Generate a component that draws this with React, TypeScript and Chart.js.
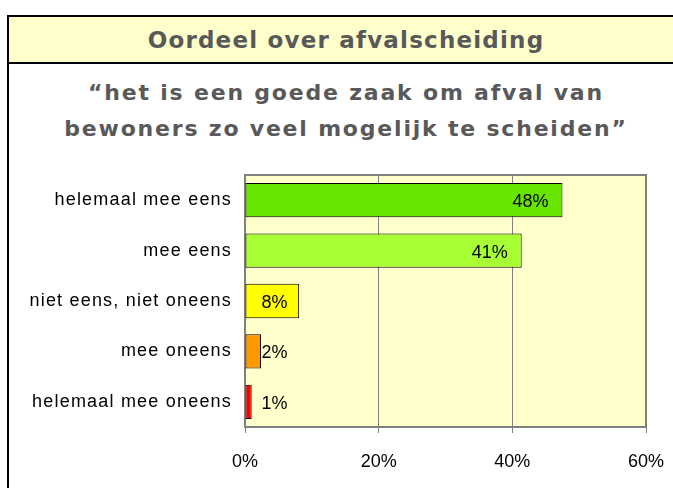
import { useEffect, useRef } from "react";
import { Chart, registerables } from "chart.js";
Chart.register(...registerables);

const headerTitle = "Oordeel over afvalscheiding";
const subtitleLines = ["“het is een goede zaak om afval van", "bewoners zo veel mogelijk te scheiden”"];
const categories = [
  "helemaal mee eens",
  "mee eens",
  "niet eens, niet oneens",
  "mee oneens",
  "helemaal mee oneens",
];
const values = [47.5, 41.4, 8.1, 2.4, 1.0];
const barColors = ["#66E600", "#A8FF33", "#FFFF00", "#FF9900", "#FF0000"];
const xTicks = [0, 20, 40, 60];

const GRAY = "#808080";
const TEXT_GRAY = "#595959";

const plotPlugin = {
  id: "plotDecor",
  beforeDraw(chart: any) {
    const { ctx, chartArea: a } = chart;
    (ctx as any).letterSpacing = "0px";
    ctx.save();
    ctx.fillStyle = "#FFFFCC";
    ctx.fillRect(a.left, a.top, a.right - a.left, a.bottom - a.top);
    ctx.restore();
  },
  beforeDatasetsDraw(chart: any) {
    const { ctx, chartArea: a } = chart;
    ctx.save();
    ctx.strokeStyle = GRAY;
    ctx.lineWidth = 2;
    ctx.strokeRect(a.left, a.top, a.right - a.left, a.bottom - a.top);
    ctx.restore();
  },
  afterDatasetsDraw(chart: any) {
    const { ctx } = chart;
    const meta = chart.getDatasetMeta(0);
    ctx.save();
    (ctx as any).letterSpacing = "0px";
    ctx.font = "18px 'Liberation Sans', Arial, sans-serif";
    ctx.fillStyle = "#000";
    ctx.textAlign = "right";
    ctx.textBaseline = "middle";
    meta.data.forEach((el: any, i: number) => {
      const text = Math.round(values[i]) + "%";
      const w = ctx.measureText(text).width;
      const right = Math.max(el.x - 14, el.base + 16 + w);
      ctx.fillText(text, right, el.y + 2);
    });
    ctx.restore();
    (ctx as any).letterSpacing = "1.2px";
  },
  afterDraw(chart: any) {
    (chart.ctx as any).letterSpacing = "0px";
  },
};

function BarChart() {
  const ref = useRef<HTMLCanvasElement | null>(null);
  useEffect(() => {
    if (!ref.current) return;
    const chart = new Chart(ref.current, {
      type: "bar",
      data: {
        labels: categories,
        datasets: [
          {
            data: values,
            backgroundColor: barColors,
            borderColor: "#000",
            borderWidth: 1,
            borderSkipped: false,
            barPercentage: 0.68,
            categoryPercentage: 1,
          },
        ],
      },
      options: {
        indexAxis: "y",
        responsive: false,
        animation: false,
        devicePixelRatio: 1,
        layout: { padding: { top: 25, right: 27, left: 0, bottom: 0 } },
        plugins: {
          legend: { display: false },
          tooltip: { enabled: false },
        },
        scales: {
          x: {
            min: 0,
            max: 60,
            afterBuildTicks: (s: any) => {
              s.ticks = xTicks.map((v) => ({ value: v }));
            },
            afterFit: (s: any) => {
              s.height = 61;
              s.paddingLeft = 0;
              s.paddingRight = 0;
            },
            ticks: {
              callback: (v: any) => v + "%",
              font: { family: "'Liberation Sans', Arial, sans-serif", size: 18 },
              color: "#000",
              padding: 18,
              maxRotation: 0,
            },
            grid: { color: GRAY, lineWidth: 1, tickLength: 6, drawTicks: true },
            border: { color: GRAY, width: 2 },
          },
          y: {
            afterFit: (s: any) => {
              s.width = 245;
            },
            ticks: {
              font: { family: "'Liberation Sans', Arial, sans-serif", size: 18 },
              color: "#000",
              padding: 13,
              z: 1,
            },
            grid: { display: false, drawTicks: false },
            border: { color: GRAY, width: 2 },
          },
        },
      },
      plugins: [plotPlugin],
    } as any);
    return () => chart.destroy();
  }, []);
  return (
    <canvas
      ref={ref}
      width={673}
      height={338}
      style={{ position: "absolute", left: 0, top: 150, width: 673, height: 338, display: "block" }}
    />
  );
}

export default function App() {
  return (
    <div
      style={{
        position: "absolute",
        left: 0,
        top: 0,
        width: 673,
        height: 488,
        overflow: "hidden",
        background: "#fff",
      }}
    >
      <div
        style={{
          position: "absolute",
          left: 7,
          top: 15,
          width: 674,
          height: 490,
          border: "2px solid #000",
        }}
      >
        <div
          style={{
            height: 44,
            background: "#FFFFCC",
            borderBottom: "2px solid #000",
            textAlign: "center",
            font: "bold 23px 'DejaVu Sans', Verdana, sans-serif",
            letterSpacing: "1.2px",
            lineHeight: "44px",
            paddingTop: 1,
            boxSizing: "content-box",
            color: TEXT_GRAY,
            whiteSpace: "nowrap",
          }}
        >
          {headerTitle}
        </div>
      </div>
      <div
        style={{
          position: "absolute",
          left: 9,
          top: 75,
          width: 674,
          textAlign: "center",
          font: "bold 22px 'DejaVu Sans', Verdana, sans-serif",
          letterSpacing: "1.8px",
          lineHeight: "36px",
          color: TEXT_GRAY,
          whiteSpace: "nowrap",
        }}
      >
        {subtitleLines.map((l, i) => (
          <div key={i}>{l}</div>
        ))}
      </div>
      <BarChart />
    </div>
  );
}
